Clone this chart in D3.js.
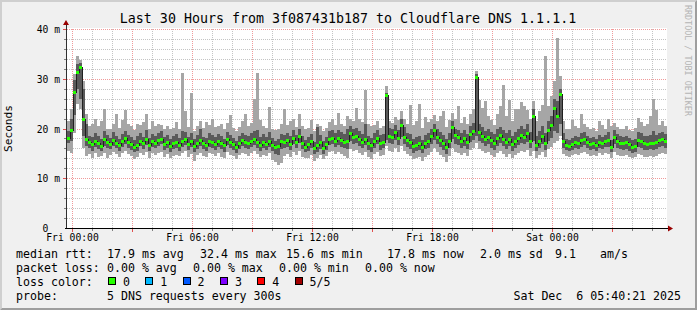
<!DOCTYPE html>
<html>
<head>
<meta charset="utf-8">
<script src="https://cdn.jsdelivr.net/npm/d3@7"></script>
<style>
  html, body { margin: 0; padding: 0; background: #f0f0f0; }
  svg { display: block; }
  text { font-family: "DejaVu Sans Mono", monospace; fill: #000; white-space: pre; }
</style>
</head>
<body>
<svg width="697" height="310"></svg>
<script>
(function (d3) {
  'use strict'

  // sample times: 200 samples of 9 minutes from Thu 23:45 (UTC)
  const startTime = new Date(Date.UTC(2025, 11, 4, 23, 45))
  const endTime = new Date(Date.UTC(2025, 11, 6, 5, 45))
  const stepMinutes = 9

  // ping values in ms: lowest, 2nd, median, 4th, highest of 5 pings
  const lo = [
    15.5, 15.0, 19.0, 25.0, 24.0, 16.0, 14.5, 14.8, 14.0, 15.0,
    14.2, 14.5, 15.0, 14.0, 14.6, 15.2, 14.8, 14.2, 15.0, 15.4,
    14.8, 14.5, 13.8, 14.3, 15.0, 14.6, 15.2, 14.0, 15.1, 14.7,
    15.0, 15.3, 14.2, 14.8, 14.0, 14.5, 14.6, 14.4, 15.0, 15.5,
    14.3, 14.8, 13.5, 14.6, 15.0, 14.4, 14.2, 15.0, 14.8, 14.5,
    15.0, 14.3, 14.0, 15.2, 14.7, 14.4, 13.8, 14.6, 15.1, 14.8,
    14.5, 15.0, 15.4, 14.8, 14.2, 14.6, 14.4, 15.0, 13.6, 13.2,
    12.7, 13.0, 14.5, 14.9, 14.2, 15.2, 14.6, 15.5, 14.2, 14.0,
    14.1, 14.7, 13.5, 14.0, 14.6, 13.8, 14.4, 15.2, 15.4, 14.8,
    15.3, 14.9, 14.5, 14.0, 15.8, 15.4, 15.6, 15.0, 14.6, 15.2,
    14.2, 13.8, 14.8, 15.3, 14.4, 14.6, 16.5, 15.5, 15.2, 16.0,
    15.2, 16.5, 15.4, 14.8, 14.4, 13.8, 14.1, 14.2, 13.5, 14.3,
    14.6, 15.3, 16.0, 15.3, 14.7, 14.3, 13.2, 14.5, 16.0, 15.2,
    15.0, 14.6, 15.0, 14.4, 15.6, 16.0, 17.0, 15.8, 15.4, 15.0,
    15.2, 14.6, 14.2, 15.0, 15.4, 14.8, 14.3, 14.9, 14.0, 14.6,
    15.0, 15.5, 15.2, 15.7, 14.5, 15.5, 14.0, 14.6, 15.2, 14.2,
    15.8, 16.2, 17.0, 17.5, 18.5, 14.8, 14.5, 14.3, 14.6, 14.8,
    14.7, 15.0, 15.2, 14.8, 14.5, 14.7, 14.4, 15.0, 14.6, 15.0,
    14.8, 14.0, 15.2, 14.6, 14.4, 14.5, 14.6, 14.3, 14.0, 14.2,
    14.9, 14.6, 14.3, 14.2, 14.4, 14.3, 14.4, 14.8, 15.0, 14.8]

  const q1 = [
    17.0, 17.5, 22.7, 28.0, 26.0, 18.5, 16.5, 16.0, 15.5, 16.3,
    15.8, 15.5, 16.5, 16.0, 15.8, 16.4, 16.0, 15.4, 16.2, 16.8,
    16.0, 15.7, 15.2, 15.4, 16.4, 15.9, 16.7, 15.5, 16.2, 16.0,
    16.4, 16.8, 15.6, 16.0, 15.3, 15.8, 16.0, 15.5, 16.3, 16.6,
    15.6, 16.2, 15.2, 15.9, 16.5, 15.8, 15.4, 16.2, 16.1, 15.7,
    16.2, 15.8, 15.3, 16.6, 16.0, 15.6, 15.0, 15.9, 16.4, 16.1,
    15.8, 16.3, 16.7, 16.1, 15.5, 16.0, 15.7, 16.3, 15.4, 14.8,
    14.6, 15.8, 16.0, 16.3, 15.6, 16.8, 16.0, 17.0, 15.8, 15.2,
    15.5, 16.1, 14.8, 15.3, 15.9, 14.9, 15.6, 16.6, 16.8, 16.2,
    16.7, 16.3, 16.0, 15.8, 17.5, 16.9, 17.1, 16.5, 16.0, 16.6,
    15.7, 15.2, 16.1, 16.8, 15.7, 16.0, 17.7, 17.0, 16.8, 17.6,
    16.6, 18.2, 16.9, 16.3, 15.9, 15.1, 15.4, 15.7, 15.0, 15.8,
    16.1, 16.9, 17.6, 16.8, 16.2, 15.7, 14.8, 16.0, 17.8, 16.9,
    16.6, 16.0, 16.5, 15.8, 17.2, 17.7, 18.5, 17.4, 17.0, 16.5,
    16.8, 16.1, 15.7, 16.5, 17.0, 16.4, 15.9, 16.5, 15.5, 16.0,
    16.6, 17.0, 16.8, 17.3, 16.0, 17.5, 15.4, 16.0, 16.8, 15.6,
    17.5, 18.0, 19.5, 19.0, 21.0, 16.0, 15.6, 15.4, 15.7, 16.0,
    15.8, 16.3, 16.6, 16.0, 15.6, 15.9, 15.5, 16.1, 15.8, 16.2,
    16.2, 15.2, 16.8, 16.0, 15.8, 15.7, 15.9, 15.5, 15.1, 15.3,
    16.3, 16.0, 15.7, 15.6, 15.8, 15.7, 15.9, 16.2, 16.5, 16.1]

  const median = [
    18.0, 19.7, 27.3, 31.4, 32.4, 22.0, 17.9, 17.2, 16.8, 17.5,
    17.0, 16.5, 17.8, 17.3, 16.9, 17.6, 17.0, 16.6, 17.4, 18.0,
    17.2, 16.9, 16.3, 16.6, 17.5, 17.0, 17.8, 16.7, 17.4, 17.1,
    17.6, 17.9, 16.8, 17.2, 16.5, 17.0, 17.3, 16.6, 17.5, 17.8,
    16.8, 17.4, 16.4, 17.1, 17.6, 17.0, 16.7, 17.5, 17.3, 16.9,
    17.4, 17.0, 16.6, 17.8, 17.2, 16.8, 16.3, 17.1, 17.6, 17.3,
    17.0, 17.5, 17.8, 17.2, 16.7, 17.3, 16.9, 17.5, 16.6, 16.2,
    16.5, 17.4, 17.2, 17.6, 16.9, 18.1, 17.3, 18.5, 17.0, 16.3,
    16.8, 17.4, 16.0, 16.6, 17.2, 16.1, 16.9, 17.9, 18.0, 17.5,
    18.0, 17.6, 17.2, 17.4, 19.0, 18.2, 18.5, 17.8, 17.2, 17.9,
    17.0, 16.6, 17.4, 18.1, 17.0, 17.3, 26.7, 18.5, 18.2, 19.3,
    18.0, 20.7, 18.3, 17.6, 17.2, 16.4, 16.7, 17.0, 16.3, 17.1,
    17.5, 18.4, 19.7, 18.2, 17.6, 17.0, 16.3, 17.4, 20.3, 18.6,
    18.2, 17.5, 18.0, 17.2, 18.8, 19.5, 30.3, 19.2, 18.5, 17.9,
    18.3, 17.6, 17.1, 18.0, 18.6, 17.8, 17.3, 17.9, 16.9, 17.5,
    18.1, 18.7, 18.3, 19.0, 17.4, 22.5, 16.7, 17.5, 18.4, 17.0,
    19.7, 20.7, 24.1, 22.5, 27.0, 17.4, 16.7, 16.5, 16.9, 17.2,
    17.0, 17.6, 17.9, 17.2, 16.8, 17.1, 16.7, 17.3, 17.0, 17.4,
    17.7, 16.3, 18.3, 17.4, 17.1, 17.0, 17.2, 16.8, 16.3, 16.5,
    17.7, 17.4, 17.0, 16.9, 17.1, 17.0, 17.2, 17.6, 17.9, 17.5]

  const q3 = [
    19.5, 22.0, 29.7, 33.0, 33.2, 28.0, 21.0, 18.5, 18.2, 19.0,
    18.5, 17.8, 19.5, 18.6, 18.0, 19.2, 18.4, 17.9, 18.8, 19.4,
    18.6, 18.2, 17.6, 18.5, 19.0, 18.3, 19.6, 18.0, 18.9, 18.4,
    19.0, 19.4, 18.2, 18.7, 17.9, 18.4, 18.8, 18.0, 19.5, 19.2,
    18.2, 19.0, 17.8, 18.6, 20.0, 18.3, 18.0, 19.0, 18.6, 18.3,
    18.8, 18.5, 17.9, 19.2, 18.6, 18.1, 17.5, 18.5, 19.1, 18.7,
    18.4, 19.0, 19.5, 19.6, 18.2, 18.8, 18.3, 19.2, 18.0, 17.5,
    17.8, 18.8, 18.6, 19.1, 18.4, 19.6, 18.7, 20.0, 18.5, 17.6,
    18.2, 18.9, 17.3, 20.3, 18.7, 17.5, 18.3, 19.5, 19.6, 19.0,
    19.6, 19.2, 18.8, 19.8, 20.6, 19.8, 20.1, 19.4, 18.8, 21.0,
    18.5, 18.0, 19.0, 19.6, 18.6, 18.9, 27.1, 20.2, 19.8, 20.8,
    19.6, 22.0, 20.4, 19.1, 18.8, 17.8, 18.2, 18.5, 17.7, 18.6,
    19.0, 20.0, 21.0, 19.9, 19.3, 18.6, 17.8, 19.0, 21.5, 20.0,
    19.7, 19.0, 19.6, 18.8, 20.5, 21.2, 31.0, 21.0, 20.3, 19.5,
    20.0, 19.2, 18.8, 19.8, 20.4, 19.6, 19.0, 19.7, 18.5, 19.2,
    19.8, 20.5, 20.0, 20.9, 19.2, 24.0, 18.5, 19.4, 20.5, 19.0,
    21.5, 22.5, 26.0, 25.5, 28.0, 19.0, 17.8, 17.6, 18.0, 18.4,
    18.3, 19.0, 19.2, 18.5, 18.0, 18.3, 17.9, 18.6, 18.2, 18.7,
    19.2, 17.6, 19.6, 18.8, 18.4, 18.2, 18.5, 18.1, 17.6, 17.8,
    19.3, 19.0, 18.5, 18.4, 18.6, 19.5, 18.7, 19.0, 19.2, 18.9]

  const hi = [
    21.5, 24.0, 31.0, 34.6, 33.8, 29.5, 23.0, 20.5, 21.0, 22.0,
    20.5, 21.5, 24.0, 20.0, 19.8, 21.0, 23.0, 20.2, 21.8, 23.7,
    21.0, 20.5, 19.6, 21.0, 20.8, 21.4, 23.0, 20.0, 21.5, 20.6,
    21.0, 20.8, 20.0, 20.6, 19.8, 20.2, 21.3, 20.0, 31.1, 23.5,
    20.4, 27.1, 19.5, 20.5, 21.5, 20.1, 21.4, 20.8, 22.0, 20.3,
    20.6, 21.0, 19.9, 21.2, 22.7, 20.2, 19.4, 20.4, 21.6, 23.0,
    20.6, 21.2, 26.0, 31.1, 21.8, 20.5, 20.1, 24.3, 20.0, 19.6,
    19.8, 21.0, 23.9, 20.8, 21.5, 22.0, 20.4, 23.0, 20.5, 19.8,
    20.2, 21.7, 19.5, 21.0, 20.5, 19.4, 20.2, 21.4, 22.0, 20.8,
    23.2, 21.0, 20.6, 22.5, 22.0, 21.6, 24.1, 22.0, 21.3, 27.7,
    21.0, 20.5, 20.8, 21.5, 20.2, 20.6, 28.5, 21.6, 21.2, 22.4,
    21.8, 23.5, 22.0, 21.0, 24.7, 20.8, 21.5, 25.0, 20.2, 22.3,
    21.4, 22.0, 22.8, 21.6, 22.5, 23.5, 20.4, 21.8, 23.2, 22.0,
    24.5, 21.2, 22.4, 21.0, 23.0, 24.0, 31.5, 25.7, 24.2, 25.5,
    22.5, 21.8, 20.8, 23.0, 24.5, 28.7, 22.6, 25.7, 21.5, 24.0,
    24.0, 25.3, 24.5, 23.8, 22.0, 25.5, 21.5, 23.6, 24.8, 34.6,
    24.5, 26.5, 29.5, 38.2, 30.5, 21.5, 20.0, 19.8, 21.7, 20.5,
    20.2, 23.0, 21.0, 20.4, 19.8, 20.2, 19.5, 21.5, 20.7, 20.0,
    22.0, 20.5, 21.2, 20.4, 20.0, 19.8, 20.6, 19.7, 19.5, 20.1,
    22.1, 21.4, 20.5, 21.0, 22.5, 26.0, 23.7, 20.8, 21.5, 20.6]

  const yTickValues = [0, 10, 20, 30, 40]
  const yTickLabels = ['0  ', '10 m', '20 m', '30 m', '40 m']

  const titleText = 'Last 30 Hours from 3f087431b187 to Cloudflare DNS 1.1.1.1'
  const rttTexts = ['median rtt:', '17.9 ms avg', '32.4 ms max', '15.6 ms min',
    '17.8 ms now', '2.0 ms sd', '9.1', 'am/s']
  const lossTexts = ['packet loss:', '0.00 % avg', '0.00 % max', '0.00 % min', '0.00 % now']
  const lossLevels = ['0', '1', '2', '3', '4', '5/5']
  const lossColors = ['#26ff00', '#00b8ff', '#0059ff', '#7e00ff', '#ff0000', '#a10000']
  const probeTexts = ['probe:', '5 DNS requests every 300s']
  const stampText = 'Sat Dec  6 05:40:21 2025'

  // layout
  const W = 697
  const H = 310
  const left = 67
  const right = 667
  const top = 29
  const bottom = 228
  const rttX = [16, 107, 200, 286, 387, 480, 555, 600]
  const lossX = [16, 107, 193, 279, 365]
  const rowY = [258, 272, 285.5, 299.5]

  const samples = median.map(function (m, i) {
    const t0 = new Date(startTime.getTime() + i * stepMinutes * 60000)
    return {
      t0: t0,
      t1: new Date(t0.getTime() + stepMinutes * 60000),
      lo: lo[i], q1: q1[i], med: m, q3: q3[i], hi: hi[i]
    }
  })

  const x = d3.scaleUtc().domain([startTime, endTime]).range([left, right])
  const y = d3.scaleLinear().domain([0, 40]).range([bottom, top])
  const px = function (v) { return Math.round(v) + 0.5 }

  const svg = d3.select('svg')

  // background with rrdtool style bevel
  svg.append('rect').attr('width', W).attr('height', H).attr('fill', '#f0f0f0')
  svg.append('polygon').
    attr('points', [[0, H], [2, H - 2], [2, 2], [W - 2, 2], [W, 0], [0, 0]].join(' ')).
    attr('fill', '#cfcfcf')
  svg.append('polygon').
    attr('points', [[W - 2, 2], [W - 2, H - 2], [2, H - 2], [0, H], [W, H], [W, 0]].join(' ')).
    attr('fill', '#9e9e9e')

  svg.append('rect').
    attr('x', left).attr('y', top - 1).
    attr('width', right - left).attr('height', bottom - top + 1).
    attr('fill', '#ffffff')

  // grid
  const grid = svg.append('g').attr('shape-rendering', 'crispEdges').attr('stroke-dasharray', '1,1')
  const hourTicks = x.ticks(d3.utcHour.every(1))
  const majorTimes = x.ticks(d3.utcHour.every(3))
  const isMajorTime = function (t) { return t.getUTCHours() % 3 === 0 }
  const minorY = y.ticks(20).filter(function (v) { return v % 10 !== 0 })
  const majorY = yTickValues.filter(function (v) { return v > 0 })

  grid.selectAll('line.hmin').
    data(minorY).
    enter().
    append('line').
    attr('x1', left).attr('x2', right).
    attr('y1', function (d) { return px(y(d)) }).
    attr('y2', function (d) { return px(y(d)) }).
    attr('stroke', '#c4c4c4')

  grid.selectAll('line.vmin').
    data(hourTicks.filter(function (t) { return !isMajorTime(t) })).
    enter().
    append('line').
    attr('y1', top).attr('y2', bottom).
    attr('x1', function (d) { return px(x(d)) }).
    attr('x2', function (d) { return px(x(d)) }).
    attr('stroke', '#c4c4c4')

  grid.selectAll('line.hmaj').
    data(majorY).
    enter().
    append('line').
    attr('x1', left).attr('x2', right).
    attr('y1', function (d) { return px(y(d)) }).
    attr('y2', function (d) { return px(y(d)) }).
    attr('stroke', '#f09a9a')

  grid.selectAll('line.vmaj').
    data(majorTimes).
    enter().
    append('line').
    attr('y1', top).attr('y2', bottom).
    attr('x1', function (d) { return px(x(d)) }).
    attr('x2', function (d) { return px(x(d)) }).
    attr('stroke', '#f09a9a')

  // smoke
  const smoke = svg.append('g').attr('shape-rendering', 'crispEdges')
  smoke.selectAll('rect.outer').
    data(samples).
    enter().
    append('rect').
    attr('x', function (d) { return x(d.t0) }).
    attr('width', function (d) { return x(d.t1) - x(d.t0) }).
    attr('y', function (d) { return y(d.hi) }).
    attr('height', function (d) { return y(d.lo) - y(d.hi) }).
    attr('fill', '#a6a6a6')

  smoke.selectAll('rect.inner').
    data(samples).
    enter().
    append('rect').
    attr('x', function (d) { return x(d.t0) }).
    attr('width', function (d) { return x(d.t1) - x(d.t0) }).
    attr('y', function (d) { return y(d.q3) }).
    attr('height', function (d) { return y(d.q1) - y(d.q3) }).
    attr('fill', '#5a5a5a')

  // median step line, then loss coloured median marks
  const medLine = d3.line().
    x(function (d) { return x(d[0]) }).
    y(function (d) { return px(y(d[1])) }).
    curve(d3.curveStepAfter)
  const medPoints = samples.map(function (d) { return [d.t0, d.med] })
  medPoints.push([samples[samples.length - 1].t1, samples[samples.length - 1].med])

  svg.append('path').
    attr('d', medLine(medPoints)).
    attr('fill', 'none').
    attr('stroke', '#202020').
    attr('stroke-width', 1).
    attr('shape-rendering', 'crispEdges')

  svg.append('g').attr('shape-rendering', 'crispEdges').
    selectAll('rect').
    data(samples).
    enter().
    append('rect').
    attr('x', function (d) { return x(d.t0) }).
    attr('width', function (d) { return x(d.t1) - x(d.t0) }).
    attr('y', function (d) { return Math.round(y(d.med)) - 1 }).
    attr('height', 2.5).
    attr('fill', lossColors[0])

  // axes lines, ticks and arrows
  const axes = svg.append('g').attr('shape-rendering', 'crispEdges')
  axes.append('line').
    attr('x1', px(left - 1)).attr('x2', px(left - 1)).
    attr('y1', bottom).attr('y2', top - 6).
    attr('stroke', '#303030')
  axes.append('line').
    attr('x1', left - 2).attr('x2', right + 2).
    attr('y1', px(bottom)).attr('y2', px(bottom)).
    attr('stroke', '#000')

  axes.selectAll('line.xt').
    data(hourTicks).
    enter().
    append('line').
    attr('x1', function (d) { return px(x(d)) }).
    attr('x2', function (d) { return px(x(d)) }).
    attr('y1', bottom + 1).
    attr('y2', function (d) { return bottom + (isMajorTime(d) ? 4 : 3) }).
    attr('stroke', function (d) { return isMajorTime(d) ? '#e05050' : '#808080' })

  axes.selectAll('line.yt').
    data(y.ticks(20).filter(function (v) { return v > 0 })).
    enter().
    append('line').
    attr('y1', function (d) { return px(y(d)) }).
    attr('y2', function (d) { return px(y(d)) }).
    attr('x1', function (d) { return left - (d % 10 === 0 ? 4 : 3) }).
    attr('x2', left - 1).
    attr('stroke', function (d) { return d % 10 === 0 ? '#e05050' : '#808080' })

  svg.append('polygon').
    attr('points', [[left - 4, top - 4], [left + 2, top - 4], [left - 1, top - 9]].join(' ')).
    attr('fill', '#990000')
  svg.append('polygon').
    attr('points', [[right + 1, bottom - 2.5], [right + 1, bottom + 3.5], [right + 6, bottom + 0.5]].join(' ')).
    attr('fill', '#990000')

  // x axis labels
  const xAxis = d3.axisBottom(x).
    tickValues(x.ticks(d3.utcHour.every(6))).
    tickFormat(d3.utcFormat('%a %H:%M')).
    tickSize(0)
  const xg = svg.append('g').attr('transform', 'translate(0,' + bottom + ')').call(xAxis)
  xg.select('.domain').remove()
  xg.selectAll('text').
    attr('y', 13).attr('dy', null).
    attr('font-size', '9.7px').
    attr('font-family', '"DejaVu Sans Mono", monospace').
    attr('fill', '#000')

  // y axis labels
  const yAxis = d3.axisLeft(y).
    tickValues(yTickValues).
    tickFormat(function (d, i) { return yTickLabels[i] }).
    tickSize(0)
  const yg = svg.append('g').attr('transform', 'translate(' + (left - 7) + ',0)').call(yAxis)
  yg.select('.domain').remove()
  yg.selectAll('text').
    attr('x', 0).attr('dy', '0.36em').
    attr('font-size', '9.7px').
    attr('font-family', '"DejaVu Sans Mono", monospace').
    attr('fill', '#000').
    attr('xml:space', 'preserve')

  svg.append('text').
    attr('transform', 'translate(12,' + ((top + bottom) / 2) + ') rotate(-90)').
    attr('text-anchor', 'middle').
    attr('font-size', '11.2px').
    text('Seconds')

  svg.append('text').
    attr('x', 348).attr('y', 23).
    attr('text-anchor', 'middle').
    attr('font-size', '13.3px').
    attr('xml:space', 'preserve').
    text(titleText)

  svg.append('text').
    attr('transform', 'translate(685,5) rotate(90)').
    attr('font-size', '8.4px').
    style('fill', '#b4b4b4').
    text('RRDTOOL / TOBI OETIKER')

  // legend
  const legend = svg.append('g').attr('font-size', '11.6px')

  legend.selectAll('text.rtt').
    data(rttTexts).
    enter().
    append('text').
    attr('x', function (d, i) { return rttX[i] }).
    attr('y', rowY[0]).
    text(function (d) { return d })

  legend.selectAll('text.loss').
    data(lossTexts).
    enter().
    append('text').
    attr('x', function (d, i) { return lossX[i] }).
    attr('y', rowY[1]).
    text(function (d) { return d })

  legend.append('text').attr('x', 16).attr('y', rowY[2]).text('loss color:')

  const swatch = legend.selectAll('g.swatch').
    data(lossLevels).
    enter().
    append('g').
    attr('transform', function (d, i) { return 'translate(' + (108 + i * 37.3) + ',0)' })
  swatch.append('rect').
    attr('x', 0.5).attr('y', rowY[2] - 8).
    attr('width', 7).attr('height', 7).
    attr('fill', function (d, i) { return lossColors[i] }).
    attr('stroke', '#000').
    attr('shape-rendering', 'crispEdges')
  swatch.append('text').
    attr('x', 15).attr('y', rowY[2]).
    text(function (d) { return d })

  legend.append('text').attr('x', 16).attr('y', rowY[3]).text(probeTexts[0])
  legend.append('text').attr('x', 107).attr('y', rowY[3]).text(probeTexts[1])
  legend.append('text').
    attr('x', 681).attr('y', rowY[3]).
    attr('text-anchor', 'end').
    attr('xml:space', 'preserve').
    text(stampText)
}(d3))
</script>
</body>
</html>
